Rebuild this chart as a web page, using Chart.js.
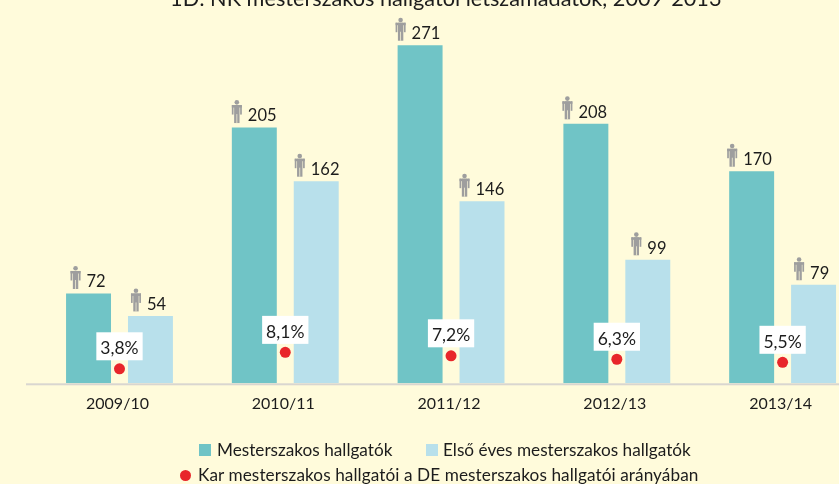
<!DOCTYPE html>
<html>
<head>
<meta charset="utf-8">
<style>
  html, body { margin: 0; padding: 0; background: #FFFBDB; overflow: hidden; }
  #marco { width: 839px; height: 484px; position: relative; overflow: hidden; }
  #wrap { width: 871px; height: 484px; position: absolute; left: 0; top: 0; }
  .ley { position: absolute; font: 17.2px Lato, sans-serif; color: #1c1c1c; line-height: 20px; white-space: nowrap; }
  .marca { position: absolute; }
</style>
<script src="https://cdn.jsdelivr.net/npm/chart.js@4"></script>
</head>
<body>
<div id="marco">
  <div id="wrap"><canvas id="grafico"></canvas></div>
  <div id="leyenda"></div>
</div>
<script>
// datos
const categorias = ["2009/10", "2010/11", "2011/12", "2012/13", "2013/14"];
const mesterszakos = [72, 205, 271, 208, 170];
const elsoEves = [54, 162, 146, 99, 79];
const karArany = [3.8, 8.1, 7.2, 6.3, 5.5];

// desplazamiento del icono respecto al borde izquierdo de cada barra
const iconoMester = [4.5, 0, -2, -1, -2];
const iconoElso = [3, 1, 0, 6, 3];

const FUENTE = "Lato, sans-serif";
const TEXTO = "#1c1c1c";

function dibujarPersona(ctx, x, y) {
  // x,y = esquina superior izquierda, 10x23
  ctx.fillStyle = "#9E9E9E";
  ctx.beginPath();
  ctx.arc(x + 5, y + 2.3, 2.3, 0, Math.PI * 2);
  ctx.fill();
  ctx.fillRect(x, y + 5, 10, 2.5);       // hombros
  ctx.fillRect(x, y + 5, 1.7, 9.5);      // brazos
  ctx.fillRect(x + 8.3, y + 5, 1.7, 9.5);
  ctx.fillRect(x + 2.3, y + 5, 5.4, 18); // cuerpo
  ctx.fillStyle = "#FFFBDB";
  ctx.fillRect(x + 4.7, y + 14, 0.7, 9);
}

// etiquetas, iconos y linea base
const extras = {
  id: "extras",
  afterLayout(chart) {
    // el titulo no esta centrado en el lienzo
    chart.titleBlock.left -= 8;
    chart.titleBlock.right -= 8;
  },
  beforeDatasetsDraw(chart) {
    const { ctx } = chart;
    const y0 = chart.scales.y.getPixelForValue(0);
    ctx.save();
    ctx.fillStyle = "#D9D6D0";
    ctx.fillRect(26, y0, chart.width - 26, 2);
    ctx.restore();
  },
  afterDatasetsDraw(chart) {
    const { ctx } = chart;
    ctx.save();
    ctx.textBaseline = "middle";
    ctx.font = "16.5px " + FUENTE;
    [[0, iconoMester, mesterszakos], [1, iconoElso, elsoEves]].forEach(([d, desp, vals]) => {
      chart.getDatasetMeta(d).data.forEach((bar, i) => {
        const izq = bar.x - bar.width / 2 + desp[i];
        dibujarPersona(ctx, izq, bar.y - 27.5);
        ctx.fillStyle = TEXTO;
        ctx.textAlign = "left";
        ctx.fillText(String(vals[i]), izq + 16, bar.y - 11.5);
      });
    });
    ctx.font = "17.5px " + FUENTE;
    chart.getDatasetMeta(2).data.forEach((pt, i) => {
      const txt = karArany[i].toFixed(1).replace(".", ",") + "%";
      const w = ctx.measureText(txt).width + 8;
      ctx.fillStyle = "#FFFFFF";
      ctx.fillRect(pt.x - w / 2, pt.y - 36.5, w, 28);
      ctx.fillStyle = TEXTO;
      ctx.textAlign = "center";
      ctx.fillText(txt, pt.x, pt.y - 20);
    });
    ctx.restore();
  }
};

const grafico = new Chart(document.getElementById("grafico"), {
  data: {
    labels: categorias,
    datasets: [
      { type: "bar", label: "Mesterszakos hallgatók", data: mesterszakos, backgroundColor: "#70C4C6", order: 2,
        barPercentage: 0.726, categoryPercentage: 0.747 },
      { type: "bar", label: "Első éves mesterszakos hallgatók", data: elsoEves, backgroundColor: "#B8E0EB", order: 2,
        barPercentage: 0.726, categoryPercentage: 0.747 },
      { type: "line", label: "Kar mesterszakos hallgatói a DE mesterszakos hallgatói arányában", data: karArany, yAxisID: "y2", order: 0,
        showLine: false, pointRadius: 5.5, pointBackgroundColor: "#E8262A", pointBorderWidth: 0, backgroundColor: "#E8262A", borderColor: "#E8262A" }
    ]
  },
  options: {
    responsive: true,
    maintainAspectRatio: false,
    animation: false,
    layout: { padding: { left: 36.6, right: 0, top: 0, bottom: 67.5 } },
    plugins: {
      title: {
        display: true,
        text: "1D: NK mesterszakos hallgatói létszámadatok, 2009-2013",
        font: { family: FUENTE, size: 21.7, weight: "normal" },
        color: TEXTO,
        padding: { top: -14, bottom: -3 }
      },
      legend: { display: false },
      tooltip: { enabled: false }
    },
    scales: {
      x: {
        grid: { display: false },
        border: { display: false },
        ticks: { color: TEXTO, font: { family: FUENTE, size: 16 }, labelOffset: -2, padding: 3, maxRotation: 0 }
      },
      y: { display: false, min: 0, max: 300 },
      y2: { display: false, min: 0, max: 98 }
    }
  },
  plugins: [extras]
});

// leyenda en html, a partir de los datasets (dos filas con distinto inicio)
const leyenda = document.getElementById("leyenda");
function itemLeyenda(ds, xMarca, xTexto, y, redondo) {
  const m = document.createElement("div");
  m.className = "marca";
  const lado = redondo ? 11 : 12;
  m.style.cssText = `left:${xMarca}px;top:${y - lado / 2}px;width:${lado}px;height:${lado}px;background:${ds.backgroundColor};border-radius:${redondo ? "50%" : "0"}`;
  const t = document.createElement("div");
  t.className = "ley";
  t.style.cssText = `left:${xTexto}px;top:${y - 10}px;letter-spacing:${redondo ? "0.08px" : "0"}`;
  t.textContent = ds.label;
  leyenda.append(m, t);
}
const ds = grafico.data.datasets;
itemLeyenda(ds[0], 199, 217, 450, false);
itemLeyenda(ds[1], 426, 443, 450, false);
itemLeyenda(ds[2], 179.5, 198, 475, true);
</script>
</body>
</html>
